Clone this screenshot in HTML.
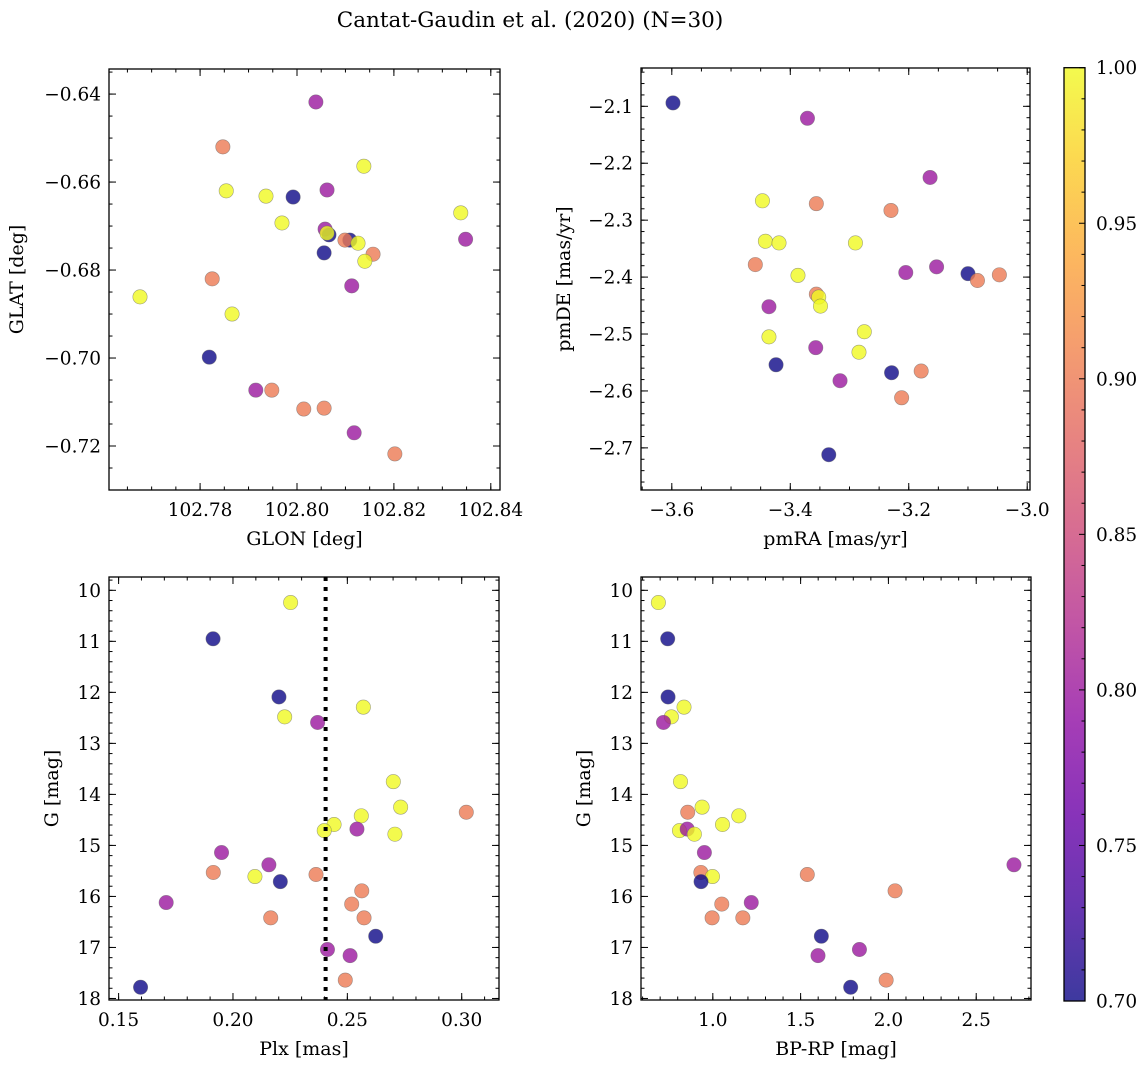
<!DOCTYPE html>
<html><head><meta charset="utf-8">
<style>
html,body{margin:0;padding:0;background:#fff;}
svg{display:block;font-family:"DejaVu Serif","Liberation Serif",serif;}
</style></head>
<body>
<svg id="fig" width="1148" height="1067" viewBox="0 0 1148 1067" xmlns="http://www.w3.org/2000/svg">
<text x="530" y="27" text-anchor="middle" font-size="21.5">Cantat-Gaudin et al. (2020) (N=30)</text>
<defs>
<linearGradient id="plasma" x1="0" y1="1" x2="0" y2="0">
<stop offset="0" stop-color="#0d0887"/><stop offset="0.1" stop-color="#41049d"/><stop offset="0.2" stop-color="#6a00a8"/><stop offset="0.3" stop-color="#8f0da4"/><stop offset="0.4" stop-color="#b12a90"/><stop offset="0.5" stop-color="#cc4778"/><stop offset="0.6" stop-color="#e16462"/><stop offset="0.7" stop-color="#f2844b"/><stop offset="0.8" stop-color="#fca636"/><stop offset="0.9" stop-color="#fcce25"/><stop offset="1" stop-color="#f0f921"/>
</linearGradient>
</defs>
<g id="panels"></g>
<g id="cbar"></g>
</svg>
<script>
// Panel 1: GLON vs GLAT
const p1Lon = [102.8039,102.7847,102.8138,102.7854,102.7936,102.7992,102.8062,102.8338,102.7969,102.8058,102.8066,102.8109,102.8099,102.8062,102.8126,102.8348,102.8056,102.8157,102.8140,102.7825,102.8113,102.7676,102.7866,102.7819,102.7915,102.7948,102.8014,102.8056,102.8118,102.8202];
const p1Lat = [-0.6418,-0.6520,-0.6564,-0.6620,-0.6632,-0.6634,-0.6618,-0.6670,-0.6693,-0.6707,-0.6720,-0.6732,-0.6732,-0.6716,-0.6739,-0.6730,-0.6761,-0.6764,-0.6780,-0.6820,-0.6836,-0.6861,-0.6900,-0.6998,-0.7073,-0.7073,-0.7116,-0.7114,-0.7170,-0.7218];
const p1C = [0.8,0.9,1.0,1.0,1.0,0.7,0.8,1.0,1.0,0.8,0.7,0.7,0.9,1.0,1.0,0.8,0.7,0.9,1.0,0.9,0.8,1.0,1.0,0.7,0.8,0.9,0.9,0.9,0.8,0.9];
// Panel 2: pmRA vs pmDE
const p2RA = [-3.598,-3.371,-3.164,-3.447,-3.356,-3.230,-3.442,-3.419,-3.290,-3.459,-3.387,-3.205,-3.153,-3.100,-3.084,-3.047,-3.356,-3.352,-3.349,-3.436,-3.275,-3.436,-3.357,-3.284,-3.424,-3.316,-3.229,-3.179,-3.212,-3.335];
const p2DE = [-2.094,-2.121,-2.225,-2.266,-2.271,-2.283,-2.337,-2.340,-2.340,-2.378,-2.397,-2.392,-2.382,-2.394,-2.406,-2.396,-2.430,-2.435,-2.451,-2.452,-2.496,-2.505,-2.524,-2.532,-2.554,-2.582,-2.568,-2.565,-2.612,-2.712];
const p2C = [0.7,0.8,0.8,1.0,0.9,0.9,1.0,1.0,1.0,0.9,1.0,0.8,0.8,0.7,0.9,0.9,0.9,1.0,1.0,0.8,1.0,1.0,0.8,1.0,0.7,0.8,0.7,0.9,0.9,0.7];
// Panel 3: Plx vs G
const p3Plx = [0.2252,0.1913,0.2201,0.2570,0.2226,0.2370,0.2701,0.2733,0.3020,0.2561,0.2442,0.2399,0.2542,0.2708,0.1950,0.2157,0.1914,0.2096,0.2363,0.2207,0.2563,0.1708,0.2519,0.2573,0.2165,0.2624,0.2413,0.2512,0.2491,0.1596];
const p3G = [10.24,10.95,12.09,12.29,12.48,12.59,13.75,14.25,14.35,14.42,14.59,14.71,14.68,14.78,15.14,15.38,15.53,15.61,15.57,15.71,15.89,16.12,16.15,16.42,16.42,16.78,17.04,17.16,17.64,17.78];
const p3C = [1.0,0.7,0.7,1.0,1.0,0.8,1.0,1.0,0.9,1.0,1.0,1.0,0.8,1.0,0.8,0.8,0.9,1.0,0.9,0.7,0.9,0.8,0.9,0.9,0.9,0.7,0.8,0.8,0.9,0.7];
const plxCut = [0.2405];
// Panel 4: BP-RP vs G
const p4BR = [0.690,0.743,0.745,0.836,0.764,0.719,0.816,0.939,0.857,1.148,1.055,0.810,0.854,0.895,0.952,2.715,0.932,0.998,1.538,0.933,2.038,1.219,1.051,1.171,0.996,1.618,1.835,1.599,1.987,1.785];
const p4G = [10.24,10.95,12.09,12.29,12.48,12.59,13.75,14.25,14.35,14.42,14.59,14.71,14.68,14.78,15.14,15.38,15.53,15.61,15.57,15.71,15.89,16.12,16.15,16.42,16.42,16.78,17.04,17.16,17.64,17.78];
const p4C = [1.0,0.7,0.7,1.0,1.0,0.8,1.0,1.0,0.9,1.0,1.0,1.0,0.8,1.0,0.8,0.8,0.9,1.0,0.9,0.7,0.9,0.8,0.9,0.9,0.9,0.7,0.8,0.8,0.9,0.7];
// tick labels
const p1XTicks = ["102.78","102.80","102.82","102.84"];
const p1YTicks = ["−0.64","−0.66","−0.68","−0.70","−0.72"];
const p2XTicks = ["−3.6","−3.4","−3.2","−3.0"];
const p2YTicks = ["−2.1","−2.2","−2.3","−2.4","−2.5","−2.6","−2.7"];
const p3XTicks = ["0.15","0.20","0.25","0.30"];
const gTicks = ["10","11","12","13","14","15","16","17","18"];
const p4XTicks = ["1.0","1.5","2.0","2.5"];
const cbTicks = ["0.70","0.75","0.80","0.85","0.90","0.95","1.00"];

const NS="http://www.w3.org/2000/svg";
const TF=18.5, LF=19;
const stops=[[0,[13,8,135]],[0.1,[65,4,157]],[0.2,[106,0,168]],[0.3,[143,13,164]],[0.4,[177,42,144]],[0.5,[204,71,120]],[0.6,[225,100,98]],[0.7,[242,132,75]],[0.8,[252,166,54]],[0.9,[252,206,37]],[1,[240,249,33]]];
function plasma(t){t=Math.max(0,Math.min(1,t));for(let i=1;i<stops.length;i++){if(t<=stops[i][0]){const a=stops[i-1],b=stops[i];const f=(t-a[0])/(b[0]-a[0]);const c=a[1].map((v,k)=>Math.round(v+(b[1][k]-v)*f));return `rgb(${c[0]},${c[1]},${c[2]})`;}}return "rgb(240,249,33)";}
function el(tag,attrs,parent){const e=document.createElementNS(NS,tag);for(const k in attrs)e.setAttribute(k,attrs[k]);parent.appendChild(e);return e;}

function panel(cfg){
  const g=el('g',{},document.getElementById('panels'));
  
  
  const {L,R,T,B}=cfg.box;
  const sx=v=>L+(v-cfg.xd[0])/(cfg.xd[1]-cfg.xd[0])*(R-L);
  const sy=v=>cfg.yinv? T+(v-cfg.yd[0])/(cfg.yd[1]-cfg.yd[0])*(B-T) : B-(v-cfg.yd[0])/(cfg.yd[1]-cfg.yd[0])*(B-T);
  for(let i=0;i<cfg.xs.length;i++){
    const c=el('circle',{cx:sx(cfg.xs[i]),cy:sy(cfg.ys[i]),r:7.2,fill:plasma((cfg.cs[i]-0.7)/0.3),'fill-opacity':0.8,stroke:'#666','stroke-opacity':0.6,'stroke-width':0.6},g);
    
    
  }
  if(cfg.vline){
    const ln=el('line',{x1:sx(cfg.vline[0]),x2:sx(cfg.vline[0]),y1:T,y2:B,stroke:'#000','stroke-width':4,'stroke-dasharray':'4 6'},g);
    
    
  }
  const tk=el('g',{stroke:'#000','stroke-width':1},g);
  
  
  const eps=1e-9;
  function xt(v,len){const x=sx(v);if(x<L-0.5||x>R+0.5)return;el('line',{x1:x,x2:x,y1:B,y2:B-len},tk);el('line',{x1:x,x2:x,y1:T,y2:T+len},tk);}
  function yt(v,len){const y=sy(v);if(y<T-0.5||y>B+0.5)return;el('line',{x1:L,x2:L+len,y1:y,y2:y},tk);el('line',{x1:R,x2:R-len,y1:y,y2:y},tk);}
  const xlo=Math.min(...cfg.xd),xhi=Math.max(...cfg.xd),ylo=Math.min(...cfg.yd),yhi=Math.max(...cfg.yd);
  for(let k=Math.ceil(xlo/cfg.xmin-eps);k*cfg.xmin<=xhi+eps;k++)xt(k*cfg.xmin,3.5);
  for(let k=Math.ceil(ylo/cfg.ymin-eps);k*cfg.ymin<=yhi+eps;k++)yt(k*cfg.ymin,3.5);
  cfg.xticks.forEach((t,i)=>{const v=cfg.x0+i*cfg.xstep;xt(v,7);const tx=el('text',{x:sx(v),y:B+26,'text-anchor':'middle','font-size':TF},g);tx.textContent=t;});
  cfg.yticks.forEach((t,i)=>{const v=cfg.y0+i*cfg.ystep;yt(v,7);const tx=el('text',{x:L-8,y:sy(v)+6.5,'text-anchor':'end','font-size':TF},g);tx.textContent=t;});
  const fr=el('rect',{x:L,y:T,width:R-L,height:B-T,fill:'none',stroke:'#000','stroke-width':1.3},g);
  
  
  const xl=el('text',{x:(L+R)/2,y:B+55,'text-anchor':'middle','font-size':LF},g);xl.textContent=cfg.xlabel;
  
  
  const yl=el('text',{x:cfg.ylx,y:(T+B)/2,'text-anchor':'middle','font-size':LF,transform:`rotate(-90 ${cfg.ylx} ${(T+B)/2})`},g);yl.textContent=cfg.ylabel;
  
  
}

panel({name:'glon-glat-panel',box:{L:109,R:500,T:69,B:490},xd:[102.7612,102.8419],yd:[-0.7300,-0.6343],xs:p1Lon,ys:p1Lat,cs:p1C,
  xticks:p1XTicks,x0:102.78,xstep:0.02,xmin:0.005,yticks:p1YTicks,y0:-0.64,ystep:-0.02,ymin:0.005,xlabel:'GLON [deg]',ylabel:'GLAT [deg]',ylx:23});
panel({name:'proper-motion-panel',box:{L:641,R:1030,T:68,B:490},xd:[-3.652,-2.9953],yd:[-2.774,-2.0327],xs:p2RA,ys:p2DE,cs:p2C,
  xticks:p2XTicks,x0:-3.6,xstep:0.2,xmin:0.05,yticks:p2YTicks,y0:-2.1,ystep:-0.1,ymin:0.02,xlabel:'pmRA [mas/yr]',ylabel:'pmDE [mas/yr]',ylx:570});
panel({name:'parallax-magnitude-panel',box:{L:109,R:499,T:577,B:1000},xd:[0.1458,0.3163],yd:[9.739,18.03],yinv:true,xs:p3Plx,ys:p3G,cs:p3C,vline:plxCut,
  xticks:p3XTicks,x0:0.15,xstep:0.05,xmin:0.01,yticks:gTicks,y0:10,ystep:1,ymin:0.2,xlabel:'Plx [mas]',ylabel:'G [mag]',ylx:58});
panel({name:'color-magnitude-panel',box:{L:641,R:1031,T:577,B:1000},xd:[0.591,2.812],yd:[9.739,18.03],yinv:true,xs:p4BR,ys:p4G,cs:p4C,
  xticks:p4XTicks,x0:1.0,xstep:0.5,xmin:0.1,yticks:gTicks,y0:10,ystep:1,ymin:0.2,xlabel:'BP-RP [mag]',ylabel:'G [mag]',ylx:590});

(function(){
  const g=document.getElementById('cbar');
  const L=1064,R=1085,T=67.7,B=1001;
  const r=el('rect',{x:L,y:T,width:R-L,height:B-T,fill:'url(#plasma)','fill-opacity':0.8},g);
  
  
  const sy=v=>B-(v-0.7)/0.3*(B-T);
  for(let k=70;k<=100;k++){const y=sy(k/100);el('line',{x1:R,x2:R-(k%5===0?6:3.5),y1:y,y2:y,stroke:'#000','stroke-width':1},g);}
  cbTicks.forEach((t,i)=>{const tx=el('text',{x:R+11,y:sy(0.7+i*0.05)+6.5,'font-size':TF},g);tx.textContent=t;
    });
  el('rect',{x:L,y:T,width:R-L,height:B-T,fill:'none',stroke:'#000','stroke-width':1.3},g);
})();
</script>
</body></html>
